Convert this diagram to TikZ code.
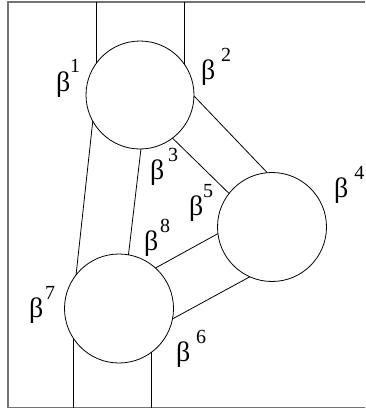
\documentclass[tikz,border=0pt]{standalone}
\usepackage{fontspec}
\setmainfont{Liberation Serif}
\newcommand\blab[2]{\fontsize{28}{28}\selectfont β\kern#2\raisebox{18pt}{\fontsize{20}{20}\selectfont #1}}
\begin{document}
\begin{tikzpicture}[x=1pt,y=-1pt,
  ring/.style={circle,draw,line width=0.8pt,inner sep=0pt,outer sep=0pt},
  edge/.style={line width=0.8pt},
  frame/.style={line width=1.4pt,draw=black!55},
  lab/.style={anchor=base west,inner sep=0pt,outer sep=0pt}]
\useasboundingbox (0,0) rectangle (365,412);
\clip (0,0) rectangle (365,412);
\fill[white] (0,0) rectangle (365,412);
\draw[frame] (370,2) -- (8,2) -- (8,407.5) -- (370,407.5);
\coordinate (top) at (0,2);
\coordinate (bot) at (0,407.5);
\node[ring,minimum size=108pt] (c1) at (140,95) {};
\node[ring,minimum size=109pt] (c4) at (272,227) {};
\node[ring,minimum size=109pt] (c7) at (119,308.5) {};
% top legs
\draw[edge] (c1.144.6) -- (c1.144.6 |- top);
\draw[edge] (c1.35.4) -- (c1.35.4 |- top);
% bottom legs
\draw[edge] (c7.214.3) -- (c7.214.3 |- bot);
\draw[edge] (c7.307.2) -- (c7.307.2 |- bot);
% c1 - c4
\draw[edge] (c1.-1) -- (c4.95);
\draw[edge] (c1.-53) -- (c4.142);
% c1 - c7
\draw[edge] (c1.209.7) -- (c7.142);
\draw[edge] (c1.-89) -- (c7.80);
% c7 - c4
\draw[edge] (c7.48.9) -- (c4.187);
\draw[edge] (c7.-11) -- (c4.246);
% labels
\node[lab] (b1) at (56,91) {\blab{1}{0pt}};
\node[lab] (b2) at (201,79) {\blab{2}{6pt}};
\node[lab] (b3) at (150,179) {\blab{3}{4pt}};
\node[lab] (b4) at (334,197) {\blab{4}{6pt}};
\node[lab] (b5) at (189,215) {\blab{5}{0pt}};
\node[lab] (b8) at (144,250) {\blab{8}{2pt}};
\node[lab] (b7) at (29,317) {\blab{7}{2pt}};
\node[lab] (b6) at (176,361) {\blab{6}{6pt}};
\end{tikzpicture}
\end{document}
